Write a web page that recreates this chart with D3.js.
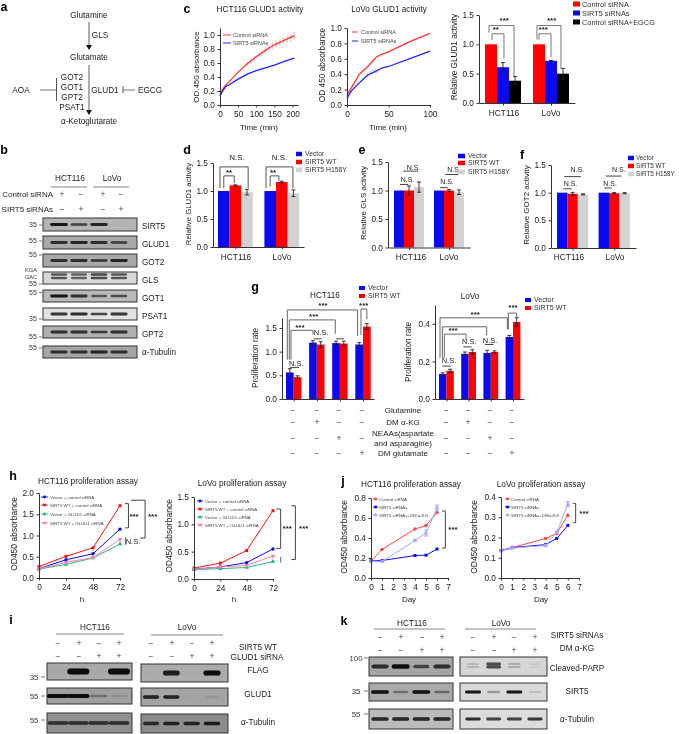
<!DOCTYPE html>
<html><head><meta charset="utf-8">
<script src="https://cdn.jsdelivr.net/npm/d3@7/dist/d3.min.js"></script>
<style>html,body{margin:0;padding:0;background:#fff}svg{display:block;filter:blur(0.3px)}text{font-family:"Liberation Sans",Arial,sans-serif}</style>
</head><body><svg id="fig" width="679" height="734"></svg>
<script>
// ---------- DATA ----------
const BLUE="#0a0aee",RED="#ff0000",BLACK="#000",GRAY="#d2d2d2";
const cellLines=["HCT116","LoVo"];
// c
const hctTime=[0,5,10,15,25,50,75,100,125,150,175,205];
const hctControl=[.14,.2,.24,.28,.33,.47,.59,.69,.78,.86,.92,.99];
const hctSirt5=[.13,.18,.22,.26,.29,.37,.44,.49,.53,.57,.62,.67];
const hctErrTime=[75,85,95,105,115,125,135,145,155,165,175,185,195,205];
const hctErrValue=[.59,.63,.67,.71,.74,.78,.81,.84,.87,.89,.92,.94,.96,.99];
const hctErrSize=[.03,.03,.03,.03,.04,.04,.04,.05,.05,.05,.05,.05,.06,.06];
const lovoTime=[0,5,15,25,35,42,50,75,100];
const lovoControl=[.13,.22,.4,.5,.62,.66,.69,.82,.93];
const lovoSirt5=[.09,.18,.29,.39,.44,.48,.5,.6,.7];
const lovoErrTime=[25,28,31,35];
const lovoErrValue=[.39,.41,.43,.44];
const lovoErrSize=[.03,.03,.03,.03];
const c3Values=[1,.61,.38,1,.72,.5];
const c3Errors=[0,.08,.07,0,.005,.09];
const c3Names=["Control siRNA","SIRT5 siRNAs","Control siRNA+EGCG"];
// d e f
const h158Names=["Vector","SIRT5 WT","SIRT5 H158Y"];
const dValues=[1,1.1,.98,1,1.16,.96];
const dErrors=[0,.01,.05,0,.015,.06];
const eValues=[1,1,1.06,1,1,.97];
const eErrors=[0,.08,.09,0,.02,.04];
const fValues=[1,.98,.97,1,.99,.99];
const fErrors=[0,.025,.01,0,.012,.01];
// g
const gTreat=["Glutamine","DM α-KG","NEAAs(aspartate\nand asparagine)","DM glutamate"];
const gSigns=[["−","−","−","−"],["−","+","−","−"],["−","−","+","−"],["−","−","−","+"]];
const gNames=["Vector","SIRT5 WT"];
const gHctValues=[.56,.46,1.19,1.15,1.18,1.17,1.15,1.53];
const gHctErrors=[.08,.03,.04,.06,.04,.05,.04,.06];
const gLovoValues=[.133,.15,.24,.25,.245,.25,.33,.41];
const gLovoErrors=[.006,.008,.01,.012,.014,.006,.008,.022];
// h
const hHours=[0,24,48,72];
const hNames=["Vector + control siRNA","SIRT5 WT + control siRNA","Vector + GLUD1 siRNA","SIRT5 WT + GLUD1 siRNA"];
const hLovoNames=["Vector + control siRNA","SIRT5 WT + control siRNA","Vector +  GLUD1 siRNA","SIRT5 WT + GLUD1 siRNA"];
const hHctA=[.22,.43,.57,1.15],hHctB=[.27,.51,.71,1.7],hHctC=[.21,.32,.47,.8],hHctD=[.22,.37,.48,.91];
const hLovoA=[.18,.22,.30,.55],hLovoB=[.2,.29,.52,1.25],hLovoC=[.17,.19,.21,.32],hLovoD=[.18,.22,.25,.42];
// j
const jDays=[0,1,4,5,6];
const jHctA=[.17,.285,.49,.525,.655],jHctB=[.17,.175,.225,.228,.29],jHctC=[.165,.165,.375,.45,.70];
const jHctCErr=[0,.005,.01,.03,.03];
const jLovoA=[.135,.15,.195,.22,.31],jLovoB=[.135,.15,.165,.195,.26],jLovoC=[.135,.148,.16,.225,.365];
const jLovoCErr=[0,.004,.005,.006,.012];
// blots: band strength per lane
const bRows=["SIRT5","GLUD1","GOT2","GLS","GOT1","PSAT1","GPT2","α-Tubulin"];
const bBands=[[.95,.7,.85,.03],[.8,.85,.8,.7],[.8,.8,.75,.85],[.6,.55,.7,.6],[.95,.8,.55,.65],[.8,.85,.75,.8],[.8,.8,.75,.8],[.8,.8,.85,.8]];
const bShade=["#b4b4b4","#a8a8a8","#a8a8a8","#d8d8d8","#b8b8b8","#e2e2e2","#b0b0b0","#a6a6a6"];
const iHctBands=[[.02,1,.02,1],[1,1,.3,.1],[.75,.75,.75,.75]];
const iLovoBands=[[.02,.9,.02,1],[.85,.85,.03,.1],[.8,.85,.85,.9]];
const kHctBands=[[.8,1,.6,.8],[.95,.35,.95,.4],[.85,.85,.85,.85]];
const kLovoBands=[[.15,.7,.2,.05],[.95,.3,.95,.15],[.85,.75,.75,.8]];
const iRows=["FLAG","GLUD1","α-Tubulin"];
const kRows=["Cleaved-PARP","SIRT5","α-Tubulin"];

// ---------- HELPERS ----------
const svg=d3.select("#fig");
const defs=svg.append("defs");
defs.append("filter").attr("id","soft").attr("x","-30%").attr("y","-100%").attr("width","160%").attr("height","300%")
  .append("feGaussianBlur").attr("stdDeviation","0.6");
function T(x,y,s,o={}){
  const t=svg.append("text").attr("x",x).attr("y",y).attr("dy",".35em")
    .attr("font-size",o.size||8.3).attr("text-anchor",o.anchor||"middle").attr("fill",o.fill||"#1a1a1a")
    .attr("font-weight",o.weight||null).text(s);
  if(o.rot) t.attr("transform",`rotate(${o.rot} ${x} ${y})`);
  return t;
}
function L(x1,y1,x2,y2,c="#444",w=1){svg.append("line").attr("x1",x1).attr("y1",y1).attr("x2",x2).attr("y2",y2).attr("stroke",c).attr("stroke-width",w);}
function styleAxis(g){g.selectAll("path,line").attr("stroke","#333").attr("stroke-width",1);
  g.selectAll("text").attr("fill","#1a1a1a").attr("font-family",'"Liberation Sans",Arial,sans-serif').attr("font-size",8.3);}
function axes(x,y,xTicks,yTicks,xFmt,yFmt,pad=5){
  const x0=x.range()[0],y0=y.range()[0];
  svg.append("g").attr("transform",`translate(0,${y0})`).call(d3.axisBottom(x).tickValues(xTicks).tickFormat(xFmt).tickSize(2.5).tickSizeOuter(0).tickPadding(pad)).call(styleAxis);
  svg.append("g").attr("transform",`translate(${x0},0)`).call(d3.axisLeft(y).tickValues(yTicks).tickFormat(yFmt).tickSize(2.5).tickSizeOuter(0).tickPadding(2.5)).call(styleAxis);
}
const f1=d3.format(".1f");
function legendSwatch(names,colors,sx,sw,sh,tx,ys,size){
  names.forEach((n,i)=>{svg.append("rect").attr("x",sx).attr("y",ys[i]-sh/2).attr("width",sw).attr("height",sh).attr("fill",colors[i]);
    T(tx,ys[i],n,{anchor:"start",size:size,fill:"#333"});});
}
function barChart(o){
  const slots=o.slots, sw=o.sw;
  const x=d3.scaleLinear().domain([(o.ax[0]-o.x0)/sw,(o.ax[1]-o.x0)/sw]).range(o.ax);
  const y=d3.scaleLinear().domain([0,o.top]).range(o.ay);
  const n=o.colors.length;
  svg.append("g").selectAll("rect").data(o.values).join("rect")
    .attr("x",(d,i)=>x(slots[i])).attr("width",x(1)-x(0)).attr("y",d=>y(d)).attr("height",d=>y(0)-y(d))
    .attr("fill",(d,i)=>o.colors[i%n]);
  const gr=svg.append("g").attr("stroke","#222").attr("stroke-width",.9);
  o.values.forEach((v,i)=>{const e=o.errors[i]; if(!e) return; const cx=x(slots[i]+.5);
    gr.append("line").attr("x1",cx).attr("x2",cx).attr("y1",y(v-e)).attr("y2",y(v+e));
    [v-e,v+e].forEach(u=>gr.append("line").attr("x1",cx-2).attr("x2",cx+2).attr("y1",y(u)).attr("y2",y(u)));
  });
  axes(x,y,o.xTicks,o.yTicks,o.xFmt||(()=>""),o.yFmt||f1);
  (o.brackets||[]).forEach(b=>{
    svg.append("path").attr("fill","none").attr("stroke",b[5]||"#555").attr("stroke-width",b[6]||1)
      .attr("d",`M${x(b[0])},${y(b[3])}V${y(b[2])}H${x(b[1])}V${y(b[4])}`);
  });
  (o.rules||[]).forEach(b=>L(x(b[0]),y(b[2]),x(b[1]),y(b[2]),"#444",1));
  (o.marks||[]).forEach(m=>T(x(m[0]),y(m[1]),m[2],{size:m[2]==="N.S."?(o.nsSize||7.5):8,weight:m[2]==="N.S."?null:"bold"}));
  return {x,y};
}
function lineChart(o){
  const x=d3.scaleLinear().domain(o.xd).range(o.ax);
  const y=d3.scaleLinear().domain(o.yd).range(o.ay);
  const line=d3.line().x((d,i)=>x(o.xs[i])).y(d=>y(d));
  o.series.forEach(s=>{
    if(s.errs){const g=svg.append("g").attr("stroke",s.color).attr("stroke-width",1);
      s.values.forEach((v,i)=>{if(!s.errs[i])return;const cx=x(o.xs[i]);
        g.append("line").attr("x1",cx).attr("x2",cx).attr("y1",y(v-s.errs[i])).attr("y2",y(v+s.errs[i]));
        [v-s.errs[i],v+s.errs[i]].forEach(u=>g.append("line").attr("x1",cx-2).attr("x2",cx+2).attr("y1",y(u)).attr("y2",y(u)));});}
    svg.append("path").attr("d",line(s.values)).attr("fill","none").attr("stroke",s.color).attr("stroke-width",o.lw||1);
    const sym=d3.symbol().type(s.sym).size(o.ms||9);
    svg.append("g").selectAll("path").data(s.values).join("path").attr("d",sym)
      .attr("transform",(d,i)=>`translate(${x(o.xs[i])},${y(d)})`+(s.flip?" rotate(180)":"")).attr("fill",s.color);
  });
  axes(x,y,o.xTicks,o.yTicks,d3.format("d"),f1,4);
  (o.brackets||[]).forEach(b=>{svg.append("path").attr("fill","none").attr("stroke",b[4]||"#444").attr("stroke-width",1)
    .attr("d",`M${x(b[0])},${y(b[2])}H${x(b[1])}V${y(b[3])}H${x(b[5]===undefined?b[0]:b[5])}`);});
  (o.vert||[]).forEach(v=>L(x(v[0]),y(v[1]),x(v[0]),y(v[2]),"#666",1));
  (o.marks||[]).forEach(m=>T(x(m[0]),y(m[1]),m[2],{size:m[2]==="N.S."?7.5:8,weight:m[2]==="N.S."?null:"bold"}));
  const lg=o.legend;
  o.series.forEach((s,i)=>{
    L(lg.x1,lg.ys[i],lg.x2,lg.ys[i],s.color,.9);
    svg.append("path").attr("d",d3.symbol().type(s.sym).size(7)).attr("transform",`translate(${(lg.x1+lg.x2)/2},${lg.ys[i]})`+(s.flip?" rotate(180)":"")).attr("fill",s.color);
    T(lg.tx,lg.ys[i],s.name,{anchor:"start",size:lg.size,fill:"#444"});
  });
  return {x,y};
}
function curveChart(o){
  const x=d3.scaleLinear().domain(o.xd).range(o.ax);
  const y=d3.scaleLinear().domain(o.yd).range(o.ay);
  const line=d3.line().x((d,i)=>x(o.xs[i])).y(d=>y(d));
  o.err.forEach(e=>{const g=svg.append("g").attr("stroke",e.color).attr("stroke-width",.8);
    e.t.forEach((t,i)=>g.append("line").attr("x1",x(t)).attr("x2",x(t)).attr("y1",y(e.v[i]-e.s[i])).attr("y2",y(e.v[i]+e.s[i])));});
  o.series.forEach(s=>svg.append("path").attr("d",line(s.values)).attr("fill","none").attr("stroke",s.color).attr("stroke-width",1.3));
  axes(x,y,o.xTicks,o.yTicks,d3.format("d"),f1,4);
  o.series.forEach((s,i)=>{L(o.lg[0],o.lg[3+i],o.lg[1],o.lg[3+i],s.color,1);T(o.lg[2],o.lg[3+i],s.name,{anchor:"start",size:5.5,fill:"#444"});});
}
function blot(o){
  const x=d3.scalePoint().domain(d3.range(4)).range(o.lanes);
  svg.append("rect").attr("x",o.box[0]).attr("y",o.box[1]).attr("width",o.box[2]-o.box[0]).attr("height",o.box[3]-o.box[1])
    .attr("fill",o.bg).attr("stroke",o.stroke||"#333").attr("stroke-width",1);
  const cy=(o.box[1]+o.box[3])/2+(o.dy||0);
  const offs=o.offs||[0];
  const ry=o.ry||1.6, rx=o.rx||9;
  svg.append("g").attr("filter","url(#soft)").selectAll("rect")
    .data(o.bands.flatMap((b,i)=>offs.map(of=>({b,i,of})))).join("rect")
    .attr("x",d=>x(d.i)-rx*(.75+.25*d.b)).attr("width",d=>2*rx*(.75+.25*d.b))
    .attr("y",d=>cy+d.of-ry*(.6+.4*d.b)).attr("height",d=>2*ry*(.6+.4*d.b))
    .attr("rx",ry).attr("ry",ry*.9)
    .attr("fill","#0a0a0a").attr("opacity",d=>d.b);
}
function signs(xs,y,arr,size=8.5){arr.forEach((s,i)=>T(xs[i],y,s,{size:size,fill:"#444"}));}

// ---------- PANEL LETTERS ----------
[["a",4,7],["b",4,150],["c",187,9],["d",187,150],["e",362,150],["f",522,155],["g",255,287],["h",13,476],["i",11,620],["j",343,481],["k",344,621]]
  .forEach(p=>T(p[1],p[2],p[0],{size:12.5,weight:"bold",fill:"#000"}));

// ---------- A ----------
[["Glutamine",89,15],["GLS",100,35],["Glutamate",89,57],["GOT2",72,77],["GOT1",72,87],["GPT2",72,97],["PSAT1",72,107],["GLUD1",105,90],["AOA",21,90],["EGCG",150,90],["α-Ketoglutarate",89,121]]
  .forEach(t=>T(t[1],t[2],t[0],{size:8.2}));
L(89,22,89,47,"#777",1.2);L(89,65,89,112,"#777",1.2);
[48,113].forEach(y=>svg.append("path").attr("d",`M86,${y-3}H92L89,${y+2}Z`).attr("fill","#111"));
L(40,90,56,90,"#777",1);L(56.5,78,56.5,101,"#555",1);L(123,86,123,93,"#555",1);L(123,90,135,90,"#777",1);

// ---------- B ----------
const bBoxY=[[218,231],[236,249],[254,267],[272,284],[290,302],[308,320],[326,338],[346,358]];
const bLanes=[59,119];
bRows.forEach((r,i)=>{blot({box:[43,bBoxY[i][0],137,bBoxY[i][1]],lanes:bLanes,bands:bBands[i],bg:bShade[i],rx:9,ry:1.5,offs:r==="GLS"?[-3,.5]:[0],dy:r==="GLS"?-.5:0});
  T(142,[226,244,262,280,298,316,334,352][i],r,{anchor:"start",size:8.2});});
[["35",225],["55",241],["55",255],["55",284],["55",292.5],["35",319],["55",337],["55",348]].forEach(m=>{T(33,m[1],m[0],{size:7,fill:"#333"});L(39,m[1],42,m[1],"#555",.8);});
T(31,270,"KGA",{size:5.6,fill:"#333"});T(31,277,"GAC",{size:5.6,fill:"#333"});
T(70,178,"HCT116",{size:8.2});T(112,178,"LoVo",{size:8.2});L(51,187,87,187,"#888",1);L(93,187,129,187,"#888",1);
T(53,194,"Control siRNA",{anchor:"end",size:8});T(53,209,"SIRT5 siRNAs",{anchor:"end",size:8});
signs([62,81,103,121],194,["+","−","+","−"]);signs([62,81,103,121],209,["−","+","−","+"]);

// ---------- C ----------
curveChart({xs:hctTime,xd:[0,215],ax:[220,298],yd:[0,1.1],ay:[105,28],xTicks:[0,50,100,150,200],yTicks:[0,.2,.4,.6,.8,1],
  series:[{name:"Control siRNA",values:hctControl,color:"#f33"},{name:"SIRT5 siRNAs",values:hctSirt5,color:"#22f"}],
  err:[{t:hctErrTime,v:hctErrValue,s:hctErrSize,color:"#f8a5a5"}],lg:[223,231,233,35,43]});
T(260,9,"HCT116 GLUD1 activity",{size:8.2});T(259,127,"Time (min)",{size:8});T(196,67,"OD.450 absorbance",{rot:-90,size:8});
curveChart({xs:lovoTime,xd:[0,100],ax:[347,430],yd:[0,1],ay:[105,28],xTicks:[0,50,100],yTicks:[0,.2,.4,.6,.8,1],
  series:[{name:"Control siRNA",values:lovoControl,color:"#f33"},{name:"SIRT5 siRNAs",values:lovoSirt5,color:"#22f"}],
  err:[{t:lovoErrTime,v:lovoErrValue,s:lovoErrSize,color:"#a8a8ff"}],lg:[352,358,361,32,41]});
T(389,9,"LoVo GLUD1 activity",{size:8.2});T(388,127,"Time (min)",{size:8});T(322,65,"OD 450 absorbance",{rot:-90,size:8.3});
const threeSlots=[0,1,2,4,5,6];
barChart({values:c3Values,errors:c3Errors,colors:[RED,BLUE,BLACK],slots:threeSlots,sw:12,x0:485,ax:[479,575],ay:[103,15],top:1.5,xTicks:[1.5,5.5],yTicks:[0,.5,1,1.5],
  brackets:[[.33,2.42,1.32,1.2,.46,"#777"],[.58,1.58,1.18,1.07,.76,"#777"],[4.33,6.33,1.32,1.08,.58,"#777"],[4.5,5.5,1.18,1.08,.78,"#777"]],
  marks:[[1.6,1.41,"***"],[.9,1.26,"**"],[5.55,1.41,"***"],[4.85,1.26,"***"]]});
T(504,113,"HCT116");T(551,113,"LoVo");T(454,57,"Relative GLUD1 activity",{rot:-90,size:8.2});
legendSwatch(c3Names,[RED,BLUE,BLACK],573,7,5,582,[4,13,22],7.4);

// ---------- D ----------
const trio=[BLUE,RED,GRAY];
barChart({values:dValues,errors:dErrors,colors:trio,slots:threeSlots,sw:11.6,x0:218,ax:[213,304],ay:[247,163],top:1.5,xTicks:[1.5,5.5],yTicks:[0,.5,1,1.5],
  brackets:[[.17,2.6,1.43,1.05,1.05,"#555"],[.5,1.4,1.27,1.05,1.14,"#555"],[4.14,6.46,1.43,1.05,1.05,"#555"],[4.5,5.25,1.27,1.08,1.18,"#555"]],
  marks:[[.95,1.34,"**"],[4.75,1.34,"**"],[1.65,1.6,"N.S."],[5.3,1.6,"N.S."]],nsSize:8});
T(236,257,"HCT116");T(282,257,"LoVo");T(188,204,"Relative GLUD1 activity",{rot:-90,size:7.8});
legendSwatch(h158Names,trio,296,6,4.5,305,[154,162,170],6.8);

// ---------- E ----------
barChart({values:eValues,errors:eErrors,colors:trio,slots:threeSlots,sw:10,x0:394,ax:[388,470],ay:[247.5,162],top:1.5,xTicks:[1.5,5.5],yTicks:[0,.5,1,1.5],
  rules:[[.6,1.43,1.106],[.93,2.43,1.34],[4.6,5.37,1.05],[5.1,6.43,1.28]],
  marks:[[1.35,1.2,"N.S."],[1.95,1.41,"N.S."],[5.3,1.15,"N.S."],[6.0,1.37,"N.S."]],nsSize:7});
T(411,257,"HCT116");T(449,257,"LoVo");T(363,203,"Relative GLS activity",{rot:-90,size:8});
legendSwatch(h158Names,trio,458,7,4.5,468,[156,163,172],6.8);

// ---------- F ----------
barChart({values:fValues,errors:fErrors,colors:trio,slots:threeSlots,sw:10.4,x0:557,ax:[551,636],ay:[248,165],top:1.5,xTicks:[1.5,5.5],yTicks:[0,.5,1,1.5],
  rules:[[.61,1.41,1.07],[.7,2.3,1.29],[4.55,5.26,1.085],[4.68,6.2,1.30]],
  marks:[[1.3,1.16,"N.S."],[1.95,1.41,"N.S."],[5.1,1.16,"N.S."],[5.95,1.42,"N.S."]],nsSize:7});
T(569,257,"HCT116");T(615,257,"LoVo");T(526,205,"Relative GOT2 activity",{rot:-90,size:8});
legendSwatch(h158Names,trio,628,6,4.5,636,[158,166,174],6.3);

// ---------- G ----------
const gSlots=[0,1,3,4,6,7,9,10];
const duo=[BLUE,RED];
barChart({values:gHctValues,errors:gHctErrors,colors:duo,slots:gSlots,sw:7.7,x0:286,ax:[282,374],ay:[399,318],top:1.71,xTicks:[1,4,7,10],yTicks:[0,.5,1,1.5],
  brackets:[[.17,9.3,1.88,.83,1.33,"#666"],[.43,6.4,1.67,.83,1.376,"#666"],[.65,3.5,1.45,.83,1.36,"#666"],[9.74,10.5,1.9,1.35,1.68,"#666"]],
  rules:[[.52,1.69,.667],[3.6,4.63,1.27],[6.5,7.53,1.27]],
  marks:[[4.8,1.98,"***"],[3.6,1.75,"***"],[1.8,1.51,"***"],[10.1,1.98,"***"],[1.35,.755,"N.S."],[4.55,1.41,"N.S."]]});
barChart({values:gLovoValues,errors:gLovoErrors,colors:duo,slots:gSlots,sw:7.4,x0:439,ax:[435,524],ay:[399,305],top:.5,xTicks:[1,4,7,10],yTicks:[0,.2,.4],
  brackets:[[.135,9.24,.432,.218,.37,"#666"],[.45,6.44,.384,.218,.34,"#666"],[.72,3.65,.345,.218,.315,"#666"],[9.37,10.5,.457,.37,.436,"#666"]],
  rules:[[.45,1.58,.175],[3.29,4.42,.277],[6.2,7.34,.29]],
  marks:[[4.9,.45,"***"],[1.9,.365,"***"],[10,.49,"***"],[1.35,.205,"N.S."],[4.1,.305,"N.S."],[6.9,.313,"N.S."]]});
T(325,295,"HCT116",{size:8.2});T(470,296,"LoVo",{size:8.2});
T(255,358,"Proliferation rate",{rot:-90,size:8.2});T(408,352,"Proliferation rate",{rot:-90,size:8.2});
legendSwatch(gNames,duo,359,6,4,368,[288,296],7);
legendSwatch(gNames,duo,525,6,4,534,[300,308],7);
const gLeftX=[293,317,339,362],gRightX=[446,468,490,512],gRowY=[410,422,438,453];
gSigns.forEach((row,i)=>{signs(gLeftX,gRowY[i],row);signs(gRightX,gRowY[i],row);});
T(403,410,gTreat[0],{size:8});T(403,422,gTreat[1],{size:8});
gTreat[2].split("\n").forEach((s,i)=>T(403,433+i*10,s,{size:8}));T(403,453,gTreat[3],{size:8});

// ---------- H ----------
const symC=d3.symbolCircle,symS=d3.symbolSquare,symT=d3.symbolTriangle;
const hColors=["#0a0aee","#f01010","#2bb57e","#ff7fb3"];
const mk=(names,arrs,colors,syms,flips,errs)=>names.map((n,i)=>({name:n,values:arrs[i],color:colors[i],sym:syms[i],flip:flips?flips[i]:false,errs:errs?errs[i]:null}));
lineChart({xs:hHours,xd:[0,72],ax:[39,120],yd:[0,2],ay:[578,493],xTicks:hHours,yTicks:[0,.5,1,1.5,2],
  series:mk(hNames,[hHctA,hHctB,hHctC,hHctD],hColors,[symC,symS,symT,symT],[0,0,0,1]),
  legend:{x1:41,x2:48,tx:50,ys:[497,505,514,523],size:4.4},
  brackets:[[76.5,79.5,1.75,1.18,"#444"],[81.8,94.3,1.83,.94,"#444",89.9]],vert:[[76.8,.965,.78]],
  marks:[[84.5,1.45,"***"],[101,1.45,"***"],[83.5,.87,"N.S."]]});
lineChart({xs:hHours,xd:[0,72],ax:[194,273],yd:[0,1.5],ay:[579,497],xTicks:hHours,yTicks:[0,.5,1,1.5],
  series:mk(hLovoNames,[hLovoA,hLovoB,hLovoC,hLovoD],hColors,[symC,symS,symT,symT],[0,0,0,1]),
  legend:{x1:197,x2:203,tx:205,ys:[501,509,517,525],size:4.4},
  brackets:[[75,79,1.28,.56,"#444"],[88.8,92.4,1.34,.356,"#444"]],vert:[[79,.405,.30]],
  marks:[[85,.93,"***"],[100,.93,"***"]]});
T(88,481,"HCT116 proliferation assay",{size:8.3});T(242,483,"LoVo proliferation assay",{size:8.3});
T(14,534,"OD450  absorbance",{rot:-90,size:8.5});T(169,536,"OD450  absorbance",{rot:-90,size:8.5});
T(82,599,"h",{size:8});T(234,599,"h",{size:8});

// ---------- J ----------
const jColors=["#ff4444","#0a0aff","#a4a8ff"];
const jNames=["Control siRNA","SIRT5 siRNAs","SIRT5 siRNAs+DM α-KG"];
const jLovoNames=["Control siRNA","SIRT5 siRNAs","SIRT5 siRNAs+DMα-KG"];
const dayTicks=d3.range(8);
lineChart({xs:jDays,xd:[0,7],ax:[371,448],yd:[0,.8],ay:[578,498],xTicks:dayTicks,yTicks:[0,.2,.4,.6,.8],
  series:mk(jNames,[jHctA,jHctB,jHctC],jColors,[symC,symS,symT],null,[null,null,jHctCErr]),
  legend:{x1:373,x2:378,tx:379,ys:[499,507,515],size:4.4},
  brackets:[[6.45,6.76,.67,.30,"#444"]],marks:[[7.45,.49,"***"]]});
lineChart({xs:jDays,xd:[0,7],ax:[501,579],yd:[0,.4],ay:[578,497],xTicks:dayTicks,yTicks:[0,.1,.2,.3,.4],
  series:mk(jLovoNames,[jLovoA,jLovoB,jLovoC],jColors,[symC,symS,symT],null,[null,null,jLovoCErr]),
  legend:{x1:505,x2:510,tx:511,ys:[499,507,515],size:4.4},
  brackets:[[6.47,6.7,.368,.273,"#444"]],marks:[[7.45,.32,"***"]]});
T(411,484,"HCT116 proliferation assay",{size:8.3});T(541,484,"LoVo proliferation assay",{size:8.3});
T(344,537,"OD450 absorbance",{rot:-90,size:8.5});T(474,537,"OD450 absorbance",{rot:-90,size:8.5});
T(409,599,"Day",{size:8});T(541,599,"Day",{size:8});

// ---------- I ----------
const iY=[[663,680],[688,704],[713,733]],iYL=[[664,682],[688,706],[714,733]];
const iShadeH=["#a9a9a9","#a0a0a0","#909090"],iShadeL=["#ababab","#a4a4a4","#8c8c8c"];
iRows.forEach((r,i)=>{
  blot({box:[47,iY[i][0],132,iY[i][1]],lanes:[58,119],bands:iHctBands[i],bg:iShadeH[i],rx:11,ry:i==0?3:1.9});
  blot({box:[141,iYL[i][0],228,iYL[i][1]],lanes:[151,212],bands:iLovoBands[i],bg:iShadeL[i],rx:8.5,ry:i==0?2.6:1.9});
  T(258,[670,694,722][i],r,{size:8.2});
});
[["35",677],["55",696],["55",720]].forEach(m=>{T(34,m[1],m[0],{size:7.8,fill:"#333"});L(41,m[1],45,m[1],"#555",.8);});
T(95,627,"HCT116",{size:8.2});T(187,627,"LoVo",{size:8.2});L(56,634,124,634,"#888",1);L(151,635,223,635,"#888",1);
signs([58,79,99,119],643,["−","+","−","+"]);signs([58,79,99,119],656,["−","−","+","+"]);
signs([151,172,192,212],643,["−","+","−","+"]);signs([151,172,192,212],656,["−","−","+","+"]);
T(258,647,"SIRT5 WT",{size:8.2});T(257,657,"GLUD1 siRNA",{size:8.2});

// ---------- K ----------
const kY=[[657,676],[683,701],[709,729]];
const kShadeH=["#a6a6a6","#aaaaaa","#bbbbbb"],kShadeL=["#d6d6d6","#d9d9d9","#dcdcdc"];
kRows.forEach((r,i)=>{
  blot({box:[369,kY[i][0],453,kY[i][1]],lanes:[380,442],bands:kHctBands[i],bg:kShadeH[i],rx:9,ry:i==0?2.2:1.8});
  blot({box:[460,kY[i][0],547,kY[i][1]],lanes:[473,535],bands:kLovoBands[i],bg:kShadeL[i],rx:8,ry:1.6,offs:i==0?[-2.5,.5]:[0]});
  T(577,[668,691,719][i],r,{size:8.2});
});
[["100",658],["35",691],["55",714]].forEach(m=>{T(356,m[1],m[0],{size:7.8,fill:"#333"});L(364,m[1],368,m[1],"#555",.8);});
T(412,623,"HCT116",{size:8.2});T(501,623,"LoVo",{size:8.2});L(374,629,445,629,"#888",1);L(465,629,536,629,"#888",1);
signs([380,401,422,442],637,["−","+","−","+"]);signs([380,401,422,442],650,["−","−","+","+"]);
signs([473,494,514,535],637,["−","+","−","+"]);signs([473,494,514,535],650,["−","−","+","+"]);
T(577,635,"SIRT5 siRNAs",{size:8.2});T(577,648,"DM α-KG",{size:8.2});
</script></body></html>
